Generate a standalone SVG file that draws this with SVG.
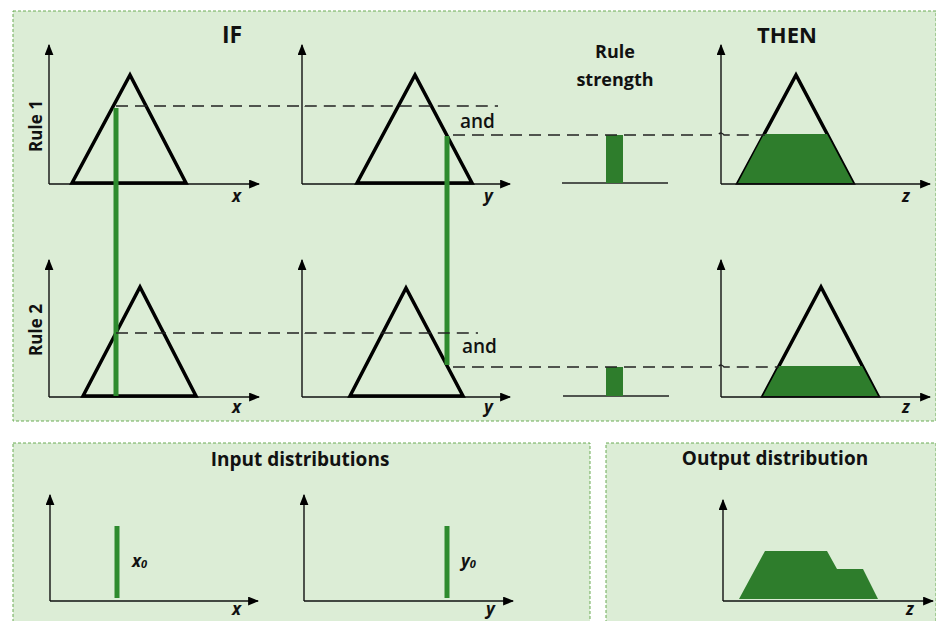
<svg xmlns="http://www.w3.org/2000/svg" width="936" height="621" viewBox="0 0 936 621">
<defs>
<marker id="arr" viewBox="0 0 10 8" refX="9" refY="4" markerWidth="11" markerHeight="9" markerUnits="userSpaceOnUse" orient="auto">
<path d="M0,0 L10,4 L0,8 Z" fill="#000"/>
</marker>
<style>
.panel{fill:#dcedd6;stroke:#6aab55;stroke-width:1;stroke-dasharray:3 2}
.ax{fill:none;stroke:#111;stroke-width:1.4;marker-end:url(#arr)}
.tri{fill:none;stroke:#000;stroke-width:3.5;stroke-linejoin:miter}
.fill{fill:#2e7d2c;stroke:none}
.gl{stroke:#2e8b2e;stroke-width:5;fill:none}
.dash{fill:none;stroke:#222;stroke-width:1.3;stroke-dasharray:12 7}
.base{stroke:#222;stroke-width:1.4;fill:none}
.h{font-family:'Open Sans','Liberation Sans',sans-serif;font-weight:700;fill:#111;text-anchor:middle}
.lab{font-family:'Open Sans','Liberation Sans',sans-serif;font-weight:700;font-style:italic;font-size:17px;fill:#111}
.and{font-family:'Open Sans','Liberation Sans',sans-serif;font-weight:600;font-size:19px;fill:#111}
</style>
</defs>

<g id="panel-rules">
<rect class="panel" x="13" y="11" width="923" height="410"/>
<text class="h" x="232" y="43" font-size="23">IF</text>
<text class="h" x="787" y="43" font-size="22">THEN</text>
<text class="h" x="615" y="58" font-size="18">Rule</text>
<text class="h" x="615" y="86" font-size="18">strength</text>
<text class="h" transform="translate(42,126) rotate(-90)" x="0" y="0" font-size="17">Rule 1</text>
<text class="h" transform="translate(42,330) rotate(-90)" x="0" y="0" font-size="17">Rule 2</text>
</g>

<g id="panel-input">
<rect class="panel" x="13" y="443" width="577" height="190"/>
<text class="h" x="300" y="466" font-size="19">Input distributions</text>
</g>

<g id="panel-output">
<rect class="panel" x="606" y="443" width="330" height="190"/>
<text class="h" x="775" y="465" font-size="19">Output distribution</text>
</g>

<g id="r1-x">
<line class="ax" x1="49" y1="184" x2="49" y2="45"/>
<line class="ax" x1="49" y1="184" x2="259" y2="184"/>
<polygon class="tri" points="72,183 130,75 186,183"/>
<text class="lab" x="232" y="202">x</text>
</g>

<g id="r1-y">
<line class="ax" x1="302" y1="184" x2="302" y2="45"/>
<line class="ax" x1="302" y1="184" x2="510" y2="184"/>
<polygon class="tri" points="357,183 415,75 472,183"/>
<text class="lab" x="484" y="202">y</text>
<text class="and" x="460" y="128">and</text>
</g>

<g id="r1-strength">
<line class="base" x1="562" y1="183" x2="668" y2="183"/>
<rect class="fill" x="606" y="135" width="17" height="48"/>
</g>

<g id="r1-z">
<line class="ax" x1="721" y1="184" x2="721" y2="45"/>
<polygon class="tri" points="738,183 796,75 853,183"/>
<polygon class="fill" points="738,183 764,134 827,134 853,183"/>
<line class="ax" x1="721" y1="184" x2="930" y2="184"/>
<text class="lab" x="902" y="202">z</text>
</g>

<g id="r2-x">
<line class="ax" x1="49" y1="397" x2="49" y2="260"/>
<line class="ax" x1="49" y1="397" x2="259" y2="397"/>
<polygon class="tri" points="83,396 140,287 196,396"/>
<text class="lab" x="232" y="413">x</text>
</g>

<g id="r2-y">
<line class="ax" x1="302" y1="397" x2="302" y2="260"/>
<line class="ax" x1="302" y1="397" x2="510" y2="397"/>
<polygon class="tri" points="350,396 406,288 463,396"/>
<text class="lab" x="484" y="413">y</text>
<text class="and" x="462" y="353">and</text>
</g>

<g id="r2-strength">
<line class="base" x1="563" y1="396" x2="669" y2="396"/>
<rect class="fill" x="606" y="367" width="17" height="29"/>
</g>

<g id="r2-z">
<line class="ax" x1="721" y1="397" x2="721" y2="260"/>
<polygon class="tri" points="763,396 821,287 878,396"/>
<polygon class="fill" points="763,396 779,366 862,366 878,396"/>
<line class="ax" x1="721" y1="397" x2="930" y2="397"/>
<text class="lab" x="902" y="413">z</text>
</g>

<g id="in-x">
<line class="ax" x1="50" y1="601" x2="50" y2="495"/>
<line class="ax" x1="50" y1="601" x2="258" y2="601"/>
<line class="gl" x1="117" y1="526" x2="117" y2="598"/>
<text class="lab" x="132" y="567">x<tspan font-size="11" dy="1">0</tspan></text>
<text class="lab" x="232" y="615">x</text>
</g>

<g id="in-y">
<line class="ax" x1="304" y1="601" x2="304" y2="495"/>
<line class="ax" x1="304" y1="601" x2="513" y2="601"/>
<line class="gl" x1="447" y1="526" x2="447" y2="598"/>
<text class="lab" x="461" y="567">y<tspan font-size="11" dy="1">0</tspan></text>
<text class="lab" x="486" y="615">y</text>
</g>

<g id="out-z">
<polygon class="fill" points="739,599 765,551 827,551 837,569 863,569 878,599"/>
<line class="ax" x1="723" y1="601" x2="723" y2="500"/>
<line class="ax" x1="723" y1="601" x2="933" y2="601"/>
<text class="lab" x="906" y="615">z</text>
</g>

<g id="connectors">
<line class="gl" x1="116" y1="108" x2="116" y2="396"/>
<line class="gl" x1="447" y1="136" x2="447" y2="365"/>
<path class="dash" d="M116,106 H299 q3,-4 6,0 H498"/>
<path class="dash" d="M453,135 H718 q3,-4 6,0 H765"/>
<path class="dash" d="M116,333 H299 q3,-4 6,0 H478"/>
<path class="dash" d="M453,367 H718 q3,-4 6,0 H779"/>
</g>
</svg>
